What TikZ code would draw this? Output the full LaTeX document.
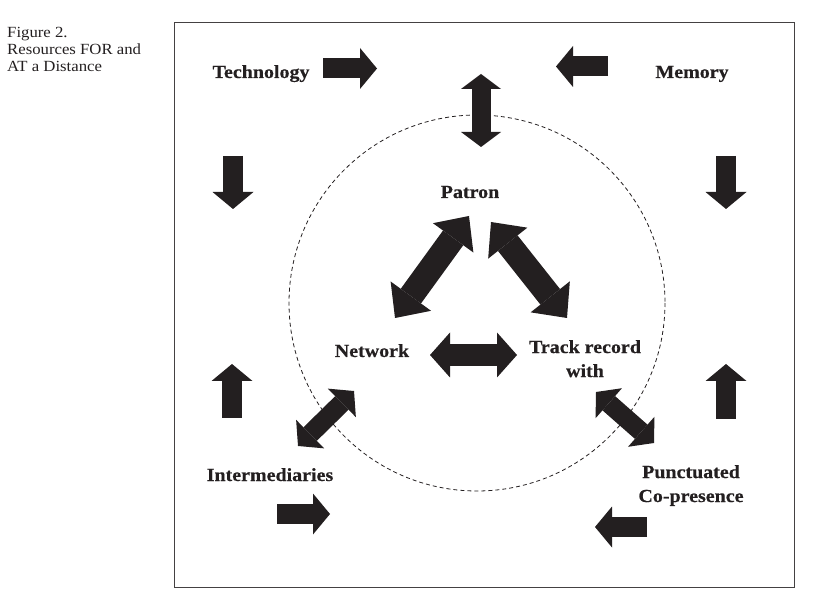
\documentclass[tikz,border=0pt]{standalone}
\usepackage{fontspec}
\setmainfont{Liberation Serif}[FakeStretch=1.08, BoldFeatures={FakeBold=0.5}]
\usetikzlibrary{arrows.meta}
\definecolor{ink}{RGB}{35,31,32}
\begin{document}
\begin{tikzpicture}[x=1pt, y=-1pt,
    lbl/.style={font=\bfseries\fontsize{18.5}{24}\selectfont, text=ink, inner sep=0pt, align=center},
    onehead/.style={draw=ink, line width=20pt, -{Triangle[width=41pt, length=17pt, line width=0pt]}},
    twohead/.style n args={3}{draw=ink, line width=#1,
      {Triangle[width=#2, length=#3, line width=0pt]}-{Triangle[width=#2, length=#3, line width=0pt]}}]
  \useasboundingbox (0,0) rectangle (828,612);
  \node[font=\fontsize{15.5}{16.7}\selectfont, text=ink, align=left, anchor=north west, inner sep=0pt]
    (caption) at (7,27.5) {Figure 2.\\Resources FOR and\\AT a Distance};
  \draw[ink!85, line width=0.9pt] (174,22) rectangle (794,587);
  \draw[ink, line width=0.8pt, dash pattern=on 4pt off 3pt] (477,303) circle[radius=188];

  % labels
  \node[lbl, anchor=base] (tech) at (261,78) {Technology};
  \node[lbl, anchor=base] (memory) at (692,78) {Memory};
  \node[lbl, anchor=base] (patron) at (470,198) {Patron};
  \node[lbl, anchor=base] (network) at (372,357) {Network};
  \node[lbl, anchor=north] (track) at (585,340) {Track record\\with};
  \node[lbl, anchor=north] (punct) at (691,465) {Punctuated\\Co-presence};
  \node[lbl, anchor=base] (inter) at (270,481) {Intermediaries};

  % end points of the block arrows
  \coordinate (t1) at (323,68.5);  \coordinate (t2) at (377,68.5);
  \coordinate (m1) at (608,66.5);  \coordinate (m2) at (556,66.5);
  \coordinate (ld1) at (233,156);  \coordinate (ld2) at (233,209);
  \coordinate (rd1) at (726,156);  \coordinate (rd2) at (726,209);
  \coordinate (lu1) at (232,418);  \coordinate (lu2) at (232,364);
  \coordinate (ru1) at (726,419);  \coordinate (ru2) at (726,364);
  \coordinate (i1) at (277,514);   \coordinate (i2) at (330,514);
  \coordinate (p1) at (647,527);   \coordinate (p2) at (595,527);
  \coordinate (top1) at (481,74);  \coordinate (top2) at (481,147);
  \coordinate (id1) at (298,446);  \coordinate (id2) at (354,391);
  \coordinate (td1) at (596,392);  \coordinate (td2) at (654,443);
  \coordinate (np1) at (395,318);  \coordinate (np2) at (469,216);
  \coordinate (pt1) at (491,222);  \coordinate (pt2) at (567,318);
  \coordinate (nt1) at (430,355);  \coordinate (nt2) at (517,355);

  \foreach \a/\b in {t1/t2, m1/m2, ld1/ld2, rd1/rd2, lu1/lu2, ru1/ru2, i1/i2, p1/p2}
    \draw[onehead] (\a) -- (\b);
  \draw[twohead={19pt}{40pt}{15pt}] (top1) -- (top2);
  \draw[twohead={19pt}{40pt}{17pt}] (id1) -- (id2);
  \draw[twohead={19pt}{40pt}{17pt}] (td1) -- (td2);
  \draw[twohead={25pt}{50pt}{27pt}] (np1) -- (np2);
  \draw[twohead={25pt}{50pt}{27pt}] (pt1) -- (pt2);
  \draw[twohead={22pt}{45pt}{20pt}] (nt1) -- (nt2);
\end{tikzpicture}
\end{document}
